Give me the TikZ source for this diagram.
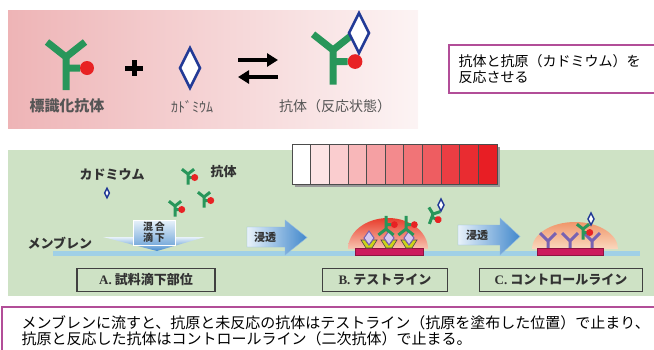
\documentclass[tikz,border=0pt]{standalone}
\usepackage{fontspec}
\setmainfont{Noto Sans CJK JP}
\newfontfamily\serifabc{Liberation Serif}
\usepackage{xcolor}
\usetikzlibrary{arrows.meta}
\usetikzlibrary{positioning}

\definecolor{abgreen}{RGB}{40,150,90}
\definecolor{dotred}{RGB}{232,34,36}
\definecolor{cdblue}{RGB}{34,58,150}
\definecolor{greytext}{RGB}{85,85,85}
\definecolor{darktext}{RGB}{50,50,50}
\definecolor{toppink}{RGB}{238,180,182}
\definecolor{panelgreen}{RGB}{206,226,197}
\definecolor{framepurple}{RGB}{178,78,152}
\definecolor{membrane}{RGB}{160,208,230}
\definecolor{flowlight}{RGB}{232,242,250}
\definecolor{flowblue}{RGB}{66,136,204}
\definecolor{linered}{RGB}{204,26,92}
\definecolor{secpurple}{RGB}{120,98,178}
\definecolor{lavender}{RGB}{214,200,240}
\definecolor{cupyellow}{RGB}{204,212,24}
\definecolor{scalered}{RGB}{232,30,36}
\definecolor{domered}{RGB}{232,60,44}
\definecolor{domepink}{RGB}{248,196,176}
\definecolor{domeorange}{RGB}{240,150,106}
\definecolor{domepeach}{RGB}{250,216,190}

\tikzset{
  abw/.store in=\abw, abw=7pt,
  dotr/.store in=\dotr, dotr=7,
  cdw/.store in=\cdw, cdw=2.5pt,
  % Y shaped antibody with its red label
  antibody/.pic={
    \draw[abgreen, line width=\abw] (0,33) -- (0,0) -- (-19,-15) (0,0) -- (19,-15) (0,11) -- (14,11);
    \fill[dotred] (21,11) circle (\dotr);
  },
  % cadmium (antigen)
  cadmium/.pic={
    \draw[cdblue, line width=\cdw, fill=white] (0,-20) -- (10,0) -- (0,20) -- (-10,0) -- cycle;
  },
  % secondary antibody of the control line
  secondary/.pic={
    \draw[secpurple, line width=3pt] (0,7) -- (0,0) -- (-8,-8) (0,0) -- (8,-8);
  },
  % antigen coated on the test line
  coated/.pic={
    \filldraw[draw=black!70, fill=cupyellow, line width=0.6pt] (-8,-5) -- (-3,3) -- (3,3) -- (8,-5) -- (4,-5) -- (0,0) -- (-4,-5) -- cycle;
    \filldraw[draw=secpurple, fill=lavender, line width=1pt] (0,-14) -- (5,-7) -- (0,0) -- (-5,-7) -- cycle;
  },
  smalltext/.style={font=\fontsize{13}{15}\selectfont\bfseries, text=darktext},
  zone/.style={draw=black!75, line width=1.1pt, minimum height=23pt, inner sep=0pt, font=\fontsize{13}{15}\selectfont\bfseries, text=darktext},
  flow/.style={left color=flowlight, right color=flowblue, draw=flowblue!60, line width=0.4pt},
  swaparrow/.style={line width=4.5pt, -{Triangle[length=11pt,width=13pt]}},
}

\begin{document}
\begin{tikzpicture}[x=1pt, y=-1pt]
\useasboundingbox (0,0) rectangle (654,349);

%top panel
\shade[left color=toppink, right color=toppink!15] (8,10) rectangle (418,128);

%reaction
\pic at (66,57) {antibody};
\draw[line width=5pt] (125,68) -- (143,68) (134,60) -- (134,76);
\pic at (190,68) {cadmium};
\coordinate (fwdA) at (238,60);
\coordinate (fwdB) at (278,60);
\coordinate (bwdA) at (238,77);
\coordinate (bwdB) at (278,77);
\draw[swaparrow] (fwdA) -- (fwdB);
\draw[swaparrow] (bwdB) -- (bwdA);
\pic[scale=1.05] at (333,50) {antibody};
\pic at (359,33) {cadmium};

%labels
\node[font=\fontsize{15}{15}\selectfont\bfseries, text=greytext] (labeled) at (67,106) {標識化抗体};
\node[font=\fontsize{14}{14}\selectfont, text=greytext] (cdname) at (192,107) {ｶﾄﾞﾐｳﾑ};
\node[font=\fontsize{14}{14}\selectfont, text=greytext] (bound) at (335,106) {抗体（反応状態）};

%note box
\draw[framepurple, line width=1.8pt] (660,45) -- (449,45) -- (449,93) -- (660,93);
\node[anchor=west, align=left, font=\fontsize{14}{16}\selectfont] (goal) at (455,69) {抗体と抗原（カドミウム）を\\反応させる};

%middle panel
\fill[panelgreen] (8,150) rectangle (660,296);

%colour scale
\fill[black!40] (295,147) rectangle (500,187);
\foreach \pc [count=\i from 0] in {0,12,22,32,42,52,62,72,86,94,100}
  \filldraw[draw=black!70, line width=0.8pt, fill=scalered!\pc!white] (292+\i*18.64,144) rectangle ++(18.64,40);

%sample
\node[smalltext] (cdtxt) at (112,175) {カドミウム};
\pic[scale=0.24, cdw=1.5pt] at (107,193) {cadmium};
\pic[scale=0.32, abw=3pt, dotr=11] at (188,174) {antibody};
\node[smalltext, anchor=west] (abtxt) at (207,172) {抗体};
\pic[scale=0.32, abw=3pt, dotr=11] at (204,197) {antibody};
\pic[scale=0.32, abw=3pt, dotr=11] at (175,206) {antibody};

%membrane
\node[smalltext, anchor=west] (mem) at (24,243) {メンブレン};
\draw[membrane, line width=5pt] (53,253) -- (640,253);

%dropping
\shade[top color=flowlight, bottom color=flowblue] (103,237) -- (205,237) -- (157,251) -- cycle;
\shadedraw[top color=flowlight, bottom color=flowblue!70, draw=white] (133,220) rectangle (175,245);
\node[font=\fontsize{10}{11}\selectfont\bfseries, align=center, text=darktext] (mix) at (154,232) {混\,合\\滴\,下};

%flow arrows
\shadedraw[flow] (247,227) -- (285,227) -- (285,220) -- (307,237.5) -- (285,255) -- (285,247) -- (247,247) -- cycle;
\node[font=\fontsize{11}{11}\selectfont\bfseries, text=darktext] (soak1) at (265,237) {浸透};
\shadedraw[flow] (458,225) -- (500,225) -- (500,218) -- (520,236.5) -- (500,255) -- (500,245) -- (458,245) -- cycle;
\node[font=\fontsize{11}{11}\selectfont\bfseries, text=darktext] (soak2) at (477,235) {浸透};

%test line
\shade[top color=domered, bottom color=domepink] (348,249) arc[start angle=180, end angle=360, x radius=40, y radius=31] -- cycle;
\filldraw[draw=linered!70!black, fill=linered, line width=0.5pt] (355,248) rectangle (423,255);
\foreach \x in {369,389,409}
  \pic at (\x,245) {coated};
\pic[scale=0.4, yscale=-1, abw=3pt, dotr=8.5] at (386,229) {antibody};
\pic[scale=0.4, yscale=-1, abw=3pt, dotr=8.5] at (406,229) {antibody};
\pic[scale=0.32, rotate=-20, abw=3pt, dotr=11] at (433,214) {antibody};
\pic[scale=0.3, cdw=1.5pt] at (441,205) {cadmium};

%control line
\shade[top color=domeorange, bottom color=domepeach] (532,249) arc[start angle=180, end angle=360, x radius=43, y radius=27] -- cycle;
\foreach \x in {548,570,592}
  \pic at (\x,241) {secondary};
\filldraw[draw=linered!70!black, fill=linered, line width=0.5pt] (537,248) rectangle (603,255);
\pic[scale=0.32, abw=3pt, dotr=11] at (583,229) {antibody};
\pic[scale=0.3, cdw=1.5pt] at (591,219) {cadmium};

%zones
\node[zone, minimum width=138pt] (zoneA) at (146,280) {{\serifabc A.}\ 試料滴下部位};
\node[zone, minimum width=125pt] (zoneB) at (385,280) {{\serifabc B.}\ テストライン};
\node[zone, minimum width=163pt] (zoneC) at (561,280) {{\serifabc C.}\ コントロールライン};

%bottom note
\draw[framepurple, line width=1.8pt] (2,307) rectangle (662,360);
\node[anchor=west, align=left, font=\fontsize{15}{16}\selectfont] (note) at (18,331) {メンブレンに流すと、抗原と未反応の抗体はテストライン（抗原を塗布した位置）で止まり、\\抗原と反応した抗体はコントロールライン（二次抗体）で止まる。};

\end{tikzpicture}
\end{document}
